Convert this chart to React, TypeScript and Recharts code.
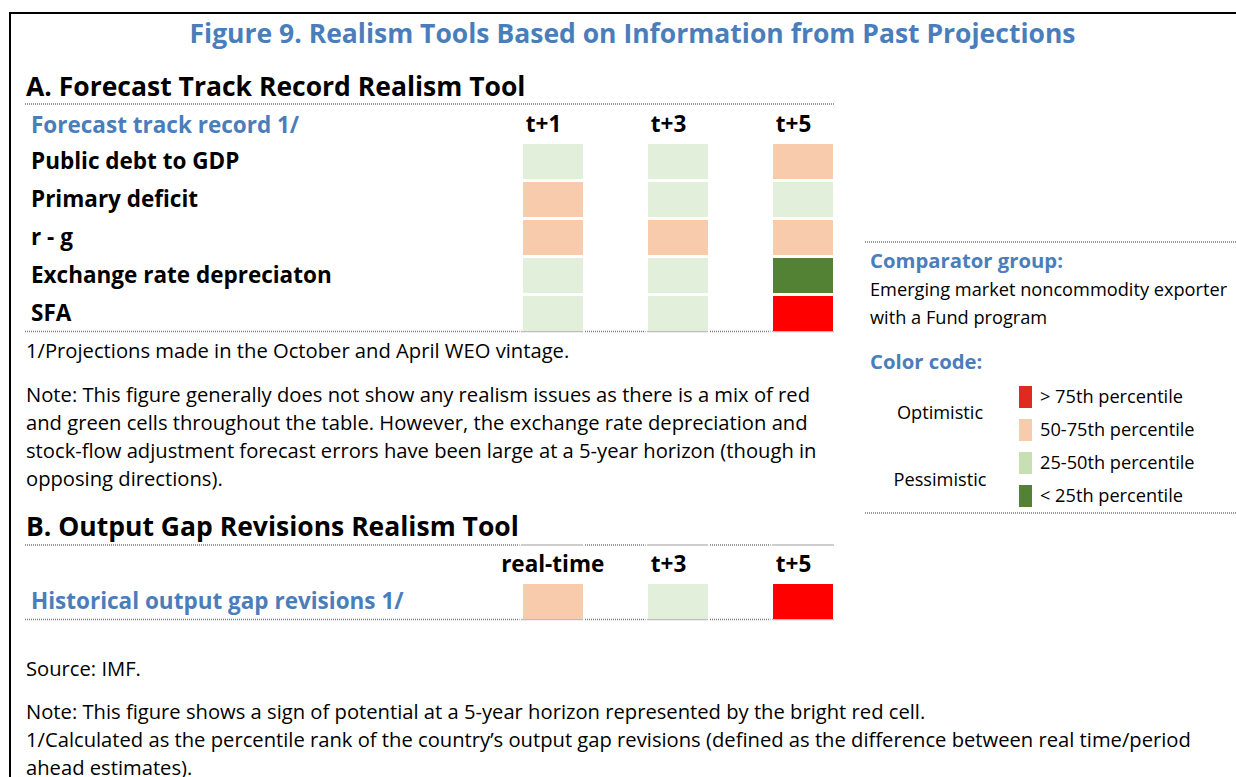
import React from 'react';
import { BarChart, Bar, XAxis, YAxis } from 'recharts';

// ---------- data ----------
const rowsA = ['Public debt to GDP', 'Primary deficit', 'r - g', 'Exchange rate depreciaton', 'SFA'];
const colsA = ['t+1', 't+3', 't+5'];
const bucketsA_t1 = ['25-50', '50-75', '50-75', '25-50', '25-50'];
const bucketsA_t3 = ['25-50', '25-50', '50-75', '25-50', '25-50'];
const bucketsA_t5 = ['50-75', '25-50', '50-75', '<25', '>75'];

const rowsB = ['Historical output gap revisions 1/'];
const colsB = ['real-time', 't+3', 't+5'];
const bucketsB_rt = ['50-75'];
const bucketsB_t3 = ['25-50'];
const bucketsB_t5 = ['>75'];

const legendKeys = ['>75', '50-75', '25-50', '<25'];
const legendLabels = ['> 75th percentile', '50-75th percentile', '25-50th percentile', '< 25th percentile'];
const legendGroups = ['Optimistic', 'Pessimistic'];

const CELL_COLORS: Record<string, string> = {
  '>75': '#FF0000',
  '50-75': '#F8CBAD',
  '25-50': '#E2EFDA',
  '<25': '#548235',
};
const LEGEND_COLORS: Record<string, string> = {
  '>75': '#DE2A1F',
  '50-75': '#F8CBAD',
  '25-50': '#C6E0B4',
  '<25': '#548235',
};

const BLUE = '#4A7EBB';
const FONT = "'Open Sans', 'Noto Sans', sans-serif";
const LABEL_SIZE = 22.5;
const BODY_SIZE = 20.2;
const BOX_SIZE = 18.2;

const buildTable = (rows: string[], c0: string[], c2: string[], c4: string[]) =>
  rows.map((row, i) => ({ row, c0: 1, g1: 1, c2: 1, g3: 1, c4: 1, b0: c0[i], b2: c2[i], b4: c4[i] }));

const dataA = buildTable(rowsA, bucketsA_t1, bucketsA_t3, bucketsA_t5);
const dataB = buildTable(rowsB, bucketsB_rt, bucketsB_t3, bucketsB_t5);

// ---------- shapes / ticks ----------
const makeCellShape = (bKey: string) => (p: any) => {
  const fill = CELL_COLORS[p.payload[bKey]];
  const x0 = Math.round(p.x + 1.5);
  const x1 = Math.round(p.x + p.width - 1.5);
  const y0 = Math.round(p.y + 1.5);
  const y1 = Math.round(p.y + p.height - 1.5);
  return <rect x={x0} y={y0} width={x1 - x0} height={y1 - y0} fill={fill} />;
};
const EmptyShape = () => <g />;

const HeaderTick = (props: any) => {
  const { x, y, payload, labels } = props;
  const label = labels[Math.floor(payload.value / 2)];
  const centered = !label.startsWith('t+');
  return (
    <text
      x={centered ? x : x - 27}
      y={y - 2}
      textAnchor={centered ? 'middle' : 'start'}
      fontFamily={FONT}
      fontWeight={700}
      fontSize={LABEL_SIZE}
      fill="#000"
    >
      {label}
    </text>
  );
};

const RowTick = (props: any) => {
  const { y, payload, color } = props;
  return (
    <text x={6} y={y} dy="0.35em" textAnchor="start" fontFamily={FONT} fontWeight={700} fontSize={LABEL_SIZE} fill={color}>
      {payload.value}
    </text>
  );
};

const Table = ({ data, cols, rowColor, height }: any) => (
  <BarChart
    width={810}
    height={height}
    data={data}
    layout="vertical"
    barCategoryGap={0}
    margin={{ top: 0, right: 1, bottom: 0, left: 0 }}
  >
    <XAxis
      type="number"
      domain={[0, 5]}
      ticks={[0.5, 2.5, 4.5]}
      orientation="top"
      height={35}
      axisLine={false}
      tickLine={false}
      interval={0}
      tick={<HeaderTick labels={cols} />}
    />
    <YAxis
      type="category"
      dataKey="row"
      width={496.5}
      axisLine={false}
      tickLine={false}
      interval={0}
      tick={<RowTick color={rowColor} />}
    />
    <Bar dataKey="c0" stackId="s" isAnimationActive={false} shape={makeCellShape('b0')} />
    <Bar dataKey="g1" stackId="s" isAnimationActive={false} shape={EmptyShape} />
    <Bar dataKey="c2" stackId="s" isAnimationActive={false} shape={makeCellShape('b2')} />
    <Bar dataKey="g3" stackId="s" isAnimationActive={false} shape={EmptyShape} />
    <Bar dataKey="c4" stackId="s" isAnimationActive={false} shape={makeCellShape('b4')} />
  </BarChart>
);

// ---------- static text ----------
const noteA = [
  'Note: This figure generally does not show any realism issues as there is a mix of red',
  'and green cells throughout the table. However, the exchange rate depreciation and',
  'stock-flow adjustment forecast errors have been large at a 5-year horizon (though in',
  'opposing directions).',
];
const noteB = [
  'Note: This figure shows a sign of potential at a 5-year horizon represented by the bright red cell.',
  '1/Calculated as the percentile rank of the country\u2019s output gap revisions (defined as the difference between real time/period',
  'ahead estimates).',
];

const Dotted = ({ x1, x2, y }: any) => (
  <line x1={x1} x2={x2} y1={y} y2={y} stroke="#7a7a7a" strokeWidth={1.6} strokeDasharray="1 1" />
);
const segs = [
  [25, 519.5],
  [521.5, 583],
  [585, 645.5],
  [647.5, 708],
  [710, 770.5],
  [772.5, 834],
];

const Overlay = () => (
  <svg width={1236} height={777} style={{ position: 'absolute', left: 0, top: 0 }} fontFamily={FONT}>
    <rect x={9} y={12} width={1240} height={2} fill="#000" />
    <rect x={9} y={12} width={2} height={780} fill="#000" />

    <text x={632.5} y={43} textAnchor="middle" fontSize={26.5} fontWeight={700} fill={BLUE}>
      Figure 9. Realism Tools Based on Information from Past Projections
    </text>

    <text x={26} y={96} fontSize={26.5} fontWeight={700} fill="#000">
      A. Forecast Track Record Realism Tool
    </text>
    <Dotted x1={25} x2={835} y={104} />
    <text x={31} y={133} fontSize={LABEL_SIZE} fontWeight={700} fill={BLUE}>
      Forecast track record 1/
    </text>
    {segs.map((s, i) => (
      <Dotted key={'a' + i} x1={s[0]} x2={s[1]} y={331.5} />
    ))}
    <text x={26} y={358} fontSize={BODY_SIZE} fill="#000">
      1/Projections made in the October and April WEO vintage.
    </text>
    {noteA.map((t, i) => (
      <text key={t} x={26} y={402 + i * 28} fontSize={BODY_SIZE} fill="#000">
        {t}
      </text>
    ))}

    <text x={26} y={536} fontSize={26.5} fontWeight={700} fill="#000">
      B. Output Gap Revisions Realism Tool
    </text>
    {segs.map((s, i) => (
      <Dotted key={'b' + i} x1={s[0]} x2={s[1]} y={545} />
    ))}
    {segs.map((s, i) => (
      <Dotted key={'c' + i} x1={s[0]} x2={s[1]} y={619.5} />
    ))}

    <text x={26} y={676} fontSize={BODY_SIZE} fill="#000">
      Source: IMF.
    </text>
    {noteB.map((t, i) => (
      <text key={t} x={26} y={719 + i * 28} fontSize={BODY_SIZE} fill="#000">
        {t}
      </text>
    ))}

    {/* right box */}
    <Dotted x1={865} x2={1236} y={242} />
    <text x={870} y={268} fontSize={20.3} fontWeight={700} fill={BLUE}>
      Comparator group:
    </text>
    <text x={870} y={296} fontSize={BOX_SIZE} fill="#000">
      Emerging market noncommodity exporter
    </text>
    <text x={870} y={324} fontSize={BOX_SIZE} fill="#000">
      with a Fund program
    </text>
    <text x={870} y={369} fontSize={20.3} fontWeight={700} fill={BLUE}>
      Color code:
    </text>
    {legendKeys.map((k, i) => (
      <g key={k}>
        <rect x={1019} y={386 + i * 33} width={13} height={22} fill={LEGEND_COLORS[k]} />
        <text x={1040} y={403 + i * 33} fontSize={BOX_SIZE} fill="#000">
          {legendLabels[i]}
        </text>
      </g>
    ))}
    {legendGroups.map((g, i) => (
      <text key={g} x={940} y={419 + i * 67} textAnchor="middle" fontSize={BOX_SIZE} fill="#000">
        {g}
      </text>
    ))}
    <Dotted x1={865} x2={1236} y={513} />
  </svg>
);

export default function App() {
  return (
    <div style={{ position: 'absolute', left: 0, top: 0, width: 1236, height: 777, background: '#fff', overflow: 'hidden' }}>
      <Overlay />
      <div style={{ position: 'absolute', left: 25, top: 107 }}>
        <Table data={dataA} cols={colsA} rowColor="#000" height={225} />
      </div>
      <div style={{ position: 'absolute', left: 25, top: 547 }}>
        <Table data={dataB} cols={colsB} rowColor={BLUE} height={73} />
      </div>
    </div>
  );
}
